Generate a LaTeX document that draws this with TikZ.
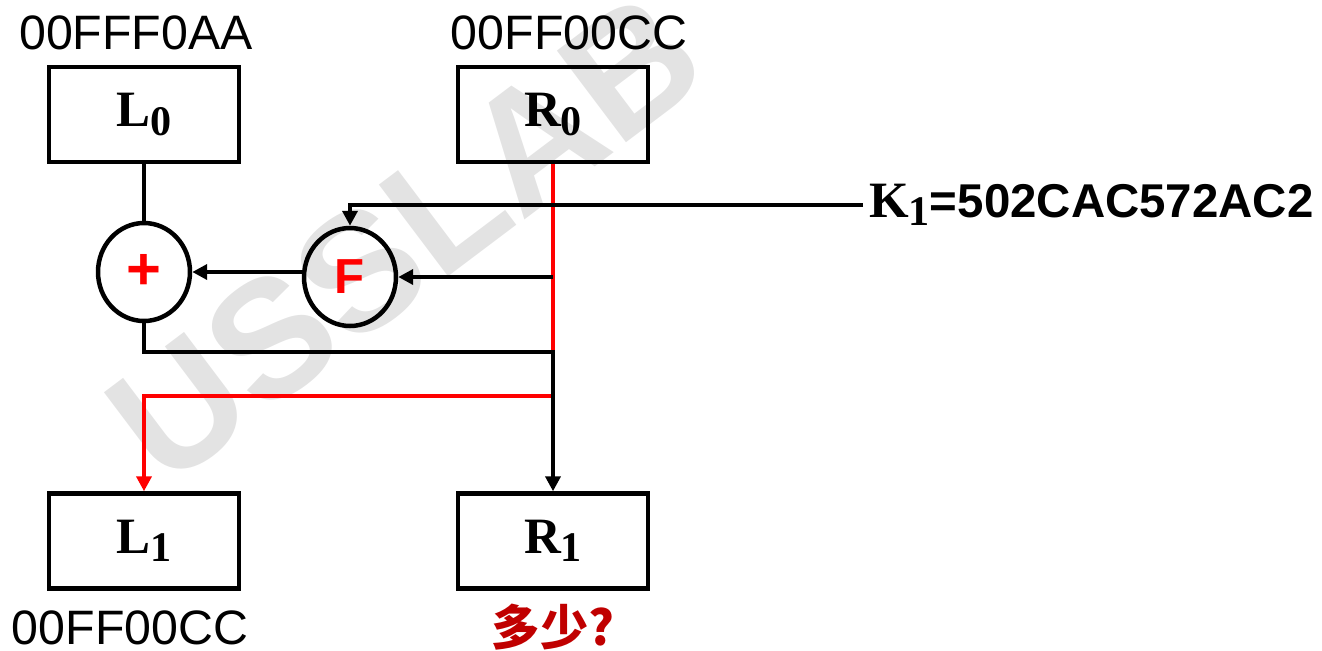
\documentclass[tikz,border=0pt]{standalone}
\usepackage{fontspec}
\setmainfont{Liberation Sans}
\newfontfamily\serifbf{Liberation Serif}
\newfontfamily\cjk{Noto Sans CJK SC}
\usetikzlibrary{positioning, arrows.meta, shapes.geometric}

\definecolor{darkred}{HTML}{C00000}
\newcommand{\reglbl}[2]{{\serifbf\bfseries\fontsize{29}{29}\selectfont #1\raisebox{-0.36ex}{\fontsize{24}{24}\selectfont #2}}}

\begin{document}
\begin{tikzpicture}[
  x=0.02cm, y=-0.02cm,
  >={Triangle[length=0.3cm, width=0.3cm]},
  wire/.style={line width=0.09cm},
  redwire/.style={wire, red},
  regbox/.style={draw, line width=0.09cm, minimum width=3.8cm,
    minimum height=1.9cm, inner sep=0pt},
  opnode/.style={draw, ellipse, line width=0.09cm, minimum width=1.84cm,
    minimum height=1.96cm, inner sep=0pt, text=red,
    font=\bfseries\fontsize{28}{28}\selectfont},
  hexlbl/.style={font=\fontsize{27.5}{30}\selectfont},
]
\useasboundingbox (0,0) rectangle (1322,650);

% --- watermark ---
\node[rotate=37, text=black!11, font=\bfseries\fontsize{95}{95}\selectfont]
  (mark) at (405,238) {USSLAB};

% --- registers ---
\node[regbox] (l0) at (144,114.5) {\reglbl{L}{0}};
\node[regbox] (r0) at (553,114.5) {\reglbl{R}{0}};
\node[regbox] (l1) at (144,541) {\reglbl{L}{1}};
\node[regbox] (r1) at (553,541) {\reglbl{R}{1}};

\node[hexlbl] (l0val) at (136,33) {00FFF0AA};
\node[hexlbl] (r0val) at (569,33) {00FF00CC};
\node[hexlbl] (l1val) at (130,628) {00FF00CC};
\node[text=darkred, font=\cjk\bfseries\fontsize{27.5}{30}\selectfont]
  (r1val) at (553,627) {多少?};

% --- round function ---
\node[opnode, font=\bfseries\fontsize{34}{34}\selectfont] (xor) at (144,272) {+};
\node[opnode] (f) at (350,277) {F};
\node[anchor=west, font=\bfseries\fontsize{27}{30}\selectfont]
  (key) at (863,205) {\reglbl{K}{1}=502CAC572AC2};

\coordinate (redturn) at (553,396);
\coordinate (blkturn) at (553,352);

% red path R0 -> L1
\draw[redwire, ->] (r0.south) -- (redturn) -| (l1.north);

% black paths
\draw[wire] (l0) -- (xor);
\draw[wire, ->] (key.west) -| (f.north);
\draw[wire, ->] (r0.south |- f.east) -- (f.east);
\draw[wire, ->] (f.west |- xor.east) -- (xor.east);
\draw[wire, ->] (xor.south) |- (blkturn) -- (r1.north);

\end{tikzpicture}
\end{document}
